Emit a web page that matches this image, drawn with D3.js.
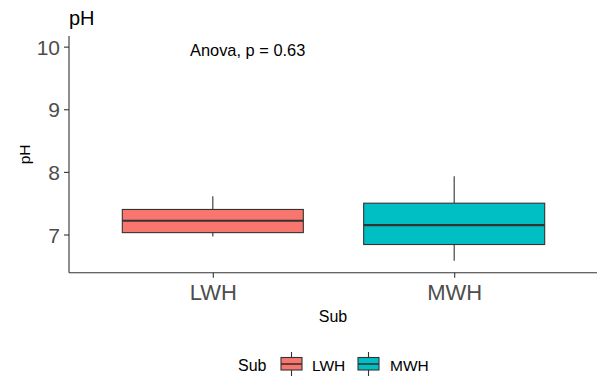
<!DOCTYPE html>
<html>
<head>
<meta charset="utf-8">
<script src="https://cdn.jsdelivr.net/npm/d3@7"></script>
<style>
  body { margin: 0; background: #fff; }
  text { font-family: "Liberation Sans", Arial, sans-serif; }
</style>
</head>
<body>
<svg width="597" height="380"></svg>
<script>
// pH by Sub
var categories = ["LWH", "MWH"];
var whiskerLow = [6.97, 6.58];
var q1 = [7.03, 6.84];
var median = [7.22, 7.15];
var q3 = [7.40, 7.50];
var whiskerHigh = [7.61, 7.93];
var fills = ["#F8766D", "#00BFC4"];
var yTicks = [7, 8, 9, 10];
var anovaLabel = "Anova, p = 0.63";

var svg = d3.select("svg");
var plotLeft = 69, plotTop = 36, plotBottom = 272.7, plotRight = 597;

var y = d3.scaleLinear().domain([6.39, 10.17]).range([plotBottom, plotTop]);
var x = d3.scalePoint().domain(categories).range([68, 599]).padding(0.6);
var boxW = x.step() * 0.75;

// boxes
var box = svg.append("g").selectAll("g")
    .data(categories)
    .enter().append("g");

box.append("line")
    .attr("x1", function (d) { return x(d); })
    .attr("x2", function (d) { return x(d); })
    .attr("y1", function (d, i) { return y(whiskerLow[i]); })
    .attr("y2", function (d, i) { return y(q1[i]); })
    .attr("stroke", "#333").attr("stroke-width", 1.1);
box.append("line")
    .attr("x1", function (d) { return x(d); })
    .attr("x2", function (d) { return x(d); })
    .attr("y1", function (d, i) { return y(q3[i]); })
    .attr("y2", function (d, i) { return y(whiskerHigh[i]); })
    .attr("stroke", "#333").attr("stroke-width", 1.1);
box.append("rect")
    .attr("x", function (d) { return x(d) - boxW / 2; })
    .attr("width", boxW)
    .attr("y", function (d, i) { return y(q3[i]); })
    .attr("height", function (d, i) { return y(q1[i]) - y(q3[i]); })
    .attr("fill", function (d, i) { return fills[i]; })
    .attr("stroke", "#333").attr("stroke-width", 1.1);
box.append("line")
    .attr("x1", function (d) { return x(d) - boxW / 2; })
    .attr("x2", function (d) { return x(d) + boxW / 2; })
    .attr("y1", function (d, i) { return y(median[i]); })
    .attr("y2", function (d, i) { return y(median[i]); })
    .attr("stroke", "#333").attr("stroke-width", 2.2);

// axes
var yAxis = svg.append("g")
    .attr("transform", "translate(" + plotLeft + ",0)")
    .call(d3.axisLeft(y).tickValues(yTicks).tickFormat(d3.format("d")).tickSize(5).tickPadding(4));
yAxis.select(".domain").attr("d", "M0," + plotTop + "V" + plotBottom).attr("stroke", "#333").attr("stroke-width", 1.1);
yAxis.selectAll(".tick line").attr("stroke", "#333").attr("stroke-width", 1.1);
yAxis.selectAll(".tick text")
    .attr("fill", "#4D4D4D")
    .style("font-size", "21px")
    .attr("dy", "0.36em");

var xAxis = svg.append("g")
    .attr("transform", "translate(0," + plotBottom + ")")
    .call(d3.axisBottom(x).tickSize(5).tickPadding(5));
xAxis.select(".domain").attr("d", "M" + plotLeft + ",0H" + plotRight).attr("stroke", "#333").attr("stroke-width", 1.1);
xAxis.selectAll(".tick line").attr("stroke", "#333").attr("stroke-width", 1.1);
xAxis.selectAll(".tick text")
    .attr("fill", "#4D4D4D")
    .style("font-size", "22px")
    .attr("dy", "0.8em");

// titles
svg.append("text").attr("x", plotLeft).attr("y", 25)
    .style("font-size", "20px").attr("fill", "#000").text("pH");
svg.append("text")
    .attr("transform", "translate(30," + ((plotTop + plotBottom) / 2) + ") rotate(-90)")
    .attr("text-anchor", "middle")
    .style("font-size", "15.5px").attr("fill", "#000").text("pH");
svg.append("text").attr("x", (plotLeft + plotRight) / 2).attr("y", 322)
    .attr("text-anchor", "middle")
    .style("font-size", "16px").attr("fill", "#000").text("Sub");
svg.append("text").attr("x", 190).attr("y", y(10) + 9)
    .style("font-size", "16.4px").attr("fill", "#000").text(anovaLabel);

// legend
var legend = svg.append("g");
legend.append("text").attr("x", 238).attr("y", 371)
    .style("font-size", "16px").attr("fill", "#000").text("Sub");
var keyX = [281, 358];
var labX = [312, 390];
var key = legend.selectAll(".key").data(categories).enter().append("g").attr("class", "key");
key.append("line")
    .attr("x1", function (d, i) { return keyX[i] + 10.5; })
    .attr("x2", function (d, i) { return keyX[i] + 10.5; })
    .attr("y1", 352).attr("y2", 376)
    .attr("stroke", "#333").attr("stroke-width", 1.1);
key.append("rect")
    .attr("x", function (d, i) { return keyX[i]; })
    .attr("y", 357.5).attr("width", 21).attr("height", 12.5)
    .attr("fill", function (d, i) { return fills[i]; })
    .attr("stroke", "#333").attr("stroke-width", 1.1);
key.append("line")
    .attr("x1", function (d, i) { return keyX[i]; })
    .attr("x2", function (d, i) { return keyX[i] + 21; })
    .attr("y1", 364).attr("y2", 364)
    .attr("stroke", "#333").attr("stroke-width", 1.6);
key.append("text")
    .attr("x", function (d, i) { return labX[i]; })
    .attr("y", 371)
    .style("font-size", "15.5px").attr("fill", "#000")
    .text(function (d) { return d; });
</script>
</body>
</html>
